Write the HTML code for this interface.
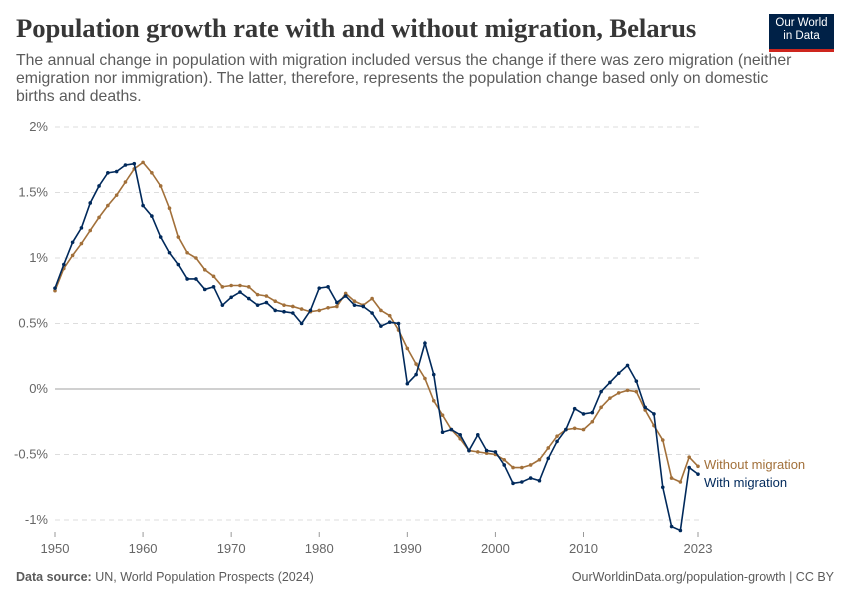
<!DOCTYPE html>
<html><head><meta charset="utf-8">
<style>
body{margin:0;background:#fff;font-family:"Liberation Sans",sans-serif;}
#wrap{position:relative;width:850px;height:600px;overflow:hidden;}
h1{position:absolute;left:16px;top:13px;margin:0;font-family:"Liberation Serif",serif;font-size:26.7px;font-weight:bold;color:#373737;letter-spacing:-0.1px;white-space:nowrap;}
.sub{position:absolute;left:16px;top:52px;font-size:15.8px;line-height:18px;color:#5b5b5b;white-space:nowrap;}
.logo{position:absolute;left:769px;top:14px;width:65px;height:38px;background:#002147;color:#fff;font-size:11.5px;line-height:13px;text-align:center;padding-top:3px;box-sizing:border-box;border-bottom:3px solid #ce261e;}
.foot{position:absolute;top:570px;font-size:12.5px;color:#5b5b5b;}
</style></head><body>
<div id="wrap">
<h1>Population growth rate with and without migration, Belarus</h1>
<div class="sub">The annual change in population with migration included versus the change if there was zero migration (neither<br>emigration nor immigration). The latter, therefore, represents the population change based only on domestic<br>births and deaths.</div>
<div class="logo">Our World<br>in Data</div>
<svg id="chart" width="850" height="600" style="position:absolute;left:0;top:0"></svg>
<div class="foot" style="left:16px"><b>Data source:</b> UN, World Population Prospects (2024)</div>
<div class="foot" style="right:16px">OurWorldinData.org/population-growth | CC BY</div>
</div>
<script>
const years=[];for(let y=1950;y<=2023;y++)years.push(y);
const withMig=[0.77,0.95,1.12,1.23,1.42,1.55,1.65,1.66,1.71,1.72,1.40,1.32,1.16,1.04,0.95,0.84,0.84,0.76,0.78,0.64,0.70,0.74,0.69,0.64,0.66,0.60,0.59,0.58,0.50,0.60,0.77,0.78,0.66,0.71,0.64,0.63,0.58,0.48,0.51,0.50,0.04,0.11,0.35,0.11,-0.33,-0.31,-0.35,-0.47,-0.35,-0.47,-0.48,-0.58,-0.72,-0.71,-0.68,-0.70,-0.53,-0.40,-0.31,-0.15,-0.19,-0.18,-0.02,0.05,0.12,0.18,0.06,-0.14,-0.19,-0.75,-1.05,-1.08,-0.60,-0.65];
const withoutMig=[0.75,0.92,1.02,1.11,1.21,1.31,1.40,1.48,1.58,1.68,1.73,1.65,1.55,1.38,1.16,1.04,1.00,0.91,0.86,0.78,0.79,0.79,0.78,0.72,0.71,0.67,0.64,0.63,0.61,0.59,0.60,0.62,0.63,0.73,0.67,0.64,0.69,0.60,0.56,0.45,0.31,0.19,0.08,-0.09,-0.20,-0.31,-0.38,-0.47,-0.48,-0.49,-0.50,-0.54,-0.60,-0.60,-0.58,-0.54,-0.45,-0.36,-0.31,-0.30,-0.31,-0.25,-0.14,-0.07,-0.03,-0.01,-0.02,-0.16,-0.28,-0.39,-0.68,-0.71,-0.52,-0.59];
const yTicks=[2,1.5,1,0.5,0,-0.5,-1];
const yTickLabels=["2%","1.5%","1%","0.5%","0%","-0.5%","-1%"];
const xTicks=[1950,1960,1970,1980,1990,2000,2010,2023];
const NS="http://www.w3.org/2000/svg";
const svg=document.getElementById('chart');
const X=v=>55+(v-1950)*(698-55)/73;
const Y=v=>389-v*131;
function mk(t,a){const e=document.createElementNS(NS,t);for(const k in a)e.setAttribute(k,a[k]);svg.appendChild(e);return e;}
yTicks.forEach((t,i)=>{
 const l=mk('line',{x1:55,x2:700,y1:Y(t),y2:Y(t),stroke:t===0?'#a0a0a0':'#dddddd','stroke-dasharray':t===0?'none':'5,4'});
 
 const tx=mk('text',{x:48,y:Y(t)+4,'text-anchor':'end','font-size':13,fill:'#666','font-family':'Liberation Sans'});
 tx.textContent=yTickLabels[i];
 
});
xTicks.forEach(t=>{
 const l=mk('line',{x1:X(t),x2:X(t),y1:532,y2:537,stroke:'#999'});
 
 const tx=mk('text',{x:X(t),y:553,'text-anchor':'middle','font-size':13,fill:'#666','font-family':'Liberation Sans'});
 tx.textContent=t;
 
});
function series(vals,color,name){
 const p=mk('polyline',{points:vals.map((v,i)=>X(years[i])+','+Y(v)).join(' '),fill:'none',stroke:color,'stroke-width':1.6});
 
 vals.forEach((v,i)=>{const c=mk('circle',{cx:X(years[i]),cy:Y(v),r:1.8,fill:color});
  });
}
series(withoutMig,'#a2703a','without-migration');
series(withMig,'#00295b','with-migration');
const l1=mk('text',{x:704,y:469,'font-size':13,fill:'#a2703a','font-family':'Liberation Sans'});l1.textContent='Without migration';

const l2=mk('text',{x:704,y:487,'font-size':13,fill:'#00295b','font-family':'Liberation Sans'});l2.textContent='With migration';

</script>
</body></html>
